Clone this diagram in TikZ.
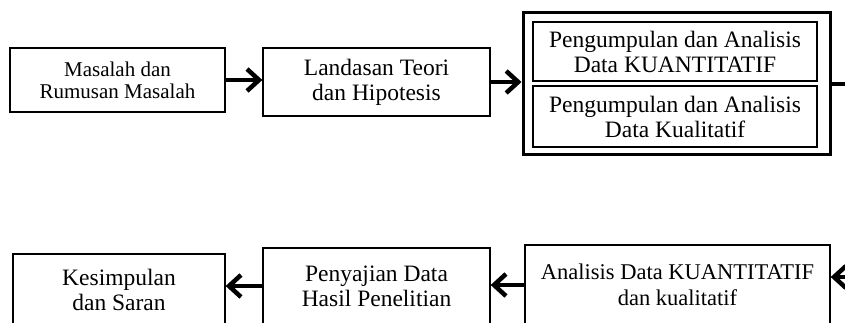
\documentclass[tikz,border=0pt]{standalone}
\usepackage{fontspec}
\setmainfont{Liberation Serif}
\usetikzlibrary{positioning,arrows.meta}

\begin{document}
\begin{tikzpicture}[x=1pt,y=-1pt,
		box/.style={draw, line width=1.3pt, align=center, inner sep=0pt, font=\fontsize{23.5}{25}\selectfont},
		flow/.style={-{Straight Barb[length=12pt,width=22pt,line width=4.5pt]}, line width=4pt}
	]
	\useasboundingbox (0,0) rectangle (845,323);
	\clip (0,0) rectangle (845,323);
	\node[box, minimum width=215, minimum height=64, font=\fontsize{21}{22}\selectfont] (masalah) at (117.5,80) {Masalah dan\\Rumusan Masalah};
	\node[box, minimum width=227, minimum height=68] (landasan) at (376.5,82) {Landasan Teori\\dan Hipotesis};
	\node[box, line width=3pt, minimum width=307, minimum height=142] (olah) at (676.5,84) {};
	\node[box, minimum width=284, minimum height=59] (kuanti) at (675,51.5) {Pengumpulan dan Analisis\\Data KUANTITATIF};
	\node[box, minimum width=284, minimum height=61] (kuali) at (675,116.5) {Pengumpulan dan Analisis\\Data Kualitatif};
	\node[box, minimum width=305, minimum height=80, font=\fontsize{22.5}{26}\selectfont] (analisis) at (677.5,285) {Analisis Data KUANTITATIF\\dan kualitatif};
	\node[box, minimum width=227, minimum height=76] (sajian) at (376.5,286) {Penyajian Data\\Hasil Penelitian};
	\node[box, minimum width=212, minimum height=72] (simpulan) at (119,290) {Kesimpulan\\dan Saran};
	\coordinate (keluar) at (870,84);
	\coordinate (masuk) at (870,277);
	\draw[flow] (masalah.east) -- (masalah.east -| landasan.west);
	\draw[flow] (landasan.east) -- (landasan.east -| olah.west);
	\draw[line width=4pt] (olah.east) -- (keluar);
	\draw[flow] (masuk) -- (masuk -| analisis.east);
	\draw[flow] (analisis.west) -- (analisis.west -| sajian.east);
	\draw[flow] (sajian.west) -- (sajian.west -| simpulan.east);
\end{tikzpicture}
\end{document}
